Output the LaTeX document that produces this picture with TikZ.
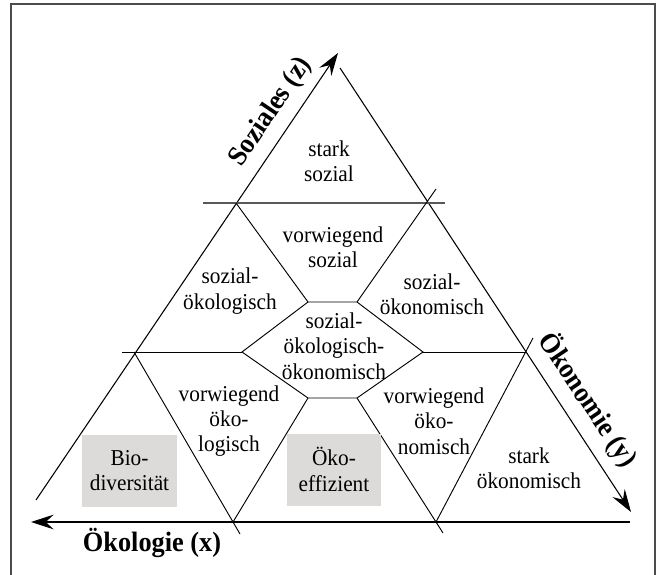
\documentclass[tikz,border=0pt]{standalone}
\usepackage{fontspec}
\setmainfont{Liberation Serif}[FakeStretch=0.94]
\usetikzlibrary{positioning,arrows.meta}
\definecolor{boxgray}{RGB}{220,219,217}

\begin{document}
\begin{tikzpicture}[x=0.75pt,y=-0.75pt,
regionnode/.style={align=center, font=\fontsize{17}{19}\selectfont, inner sep=0pt},
boxnode/.style={regionnode, fill=boxgray, minimum width=71pt, minimum height=54pt},
axislabel/.style={font=\fontsize{21}{24}\selectfont\bfseries, inner sep=0pt},
gridline/.style={line width=0.7pt},
axisarrow/.style={line width=0.8pt, -{Stealth[length=17pt,width=11pt,inset=6pt]}},
]
\useasboundingbox (0,0) rectangle (659,574);

% Frame
\draw[black!70, line width=0.9pt] (11,580) -- (11,4) -- (655,4) -- (655,580);

% Corner points
\coordinate (zstart) at (36,500);
\coordinate (ztip) at (338,53);
\coordinate (ystart) at (340,68);
\coordinate (ytip) at (631,512);
\coordinate (xstart) at (630,522);
\coordinate (xtip) at (31,522);

% Grid points
\coordinate (toplinel) at (203,203);
\coordinate (topliner) at (445,203);
\coordinate (midlinel) at (122,352);
\coordinate (p1) at (236,203);
\coordinate (p2) at (427,203);
\coordinate (p2end) at (436,189);
\coordinate (q1) at (134,352);
\coordinate (q2) at (526,352);
\coordinate (q2end) at (533,338);
\coordinate (r1) at (233,522);
\coordinate (r1end) at (240,534);
\coordinate (r2) at (436,522);
\coordinate (r2end) at (443,533);

% Hexagon
\coordinate (hl) at (242,352);
\coordinate (htl) at (308,302);
\coordinate (htr) at (357,302);
\coordinate (hr) at (423,352);
\coordinate (hbr) at (357,398);
\coordinate (hbl) at (308,398);

% Axes
\draw[axisarrow] (zstart) -- (ztip);
\draw[axisarrow] (ystart) -- (ytip);
\draw[axisarrow] (xstart) -- (xtip);

% Lines
\draw[black!65, line width=1pt] (toplinel) -- (topliner);
\draw[gridline] (midlinel) -- (hl);
\draw[gridline] (hr) -- (q2);
\draw[gridline] (hl) -- (htl) -- (htr) -- (hr) -- (hbr) -- (hbl) -- cycle;
\draw[gridline] (p1) -- (htl);
\draw[gridline] (htr) -- (p2end);
\draw[gridline] (q1) -- (r1end);
\draw[gridline] (hbl) -- (r1);
\draw[gridline] (hbr) -- (r2end);
\draw[gridline] (r2) -- (q2end);

% Boxes
\node[boxnode] (biodiv) at (129.5,470.5) {Bio-\\diversität};
\node[boxnode] (oekoeff) at (334,469.5) {Öko-\\effizient};

% Regions
\node[regionnode] (starksozial) at (329,161) {stark\\sozial};
\node[regionnode] (vorwsozial) at (333,247) {vorwiegend\\sozial};
\node[regionnode] (sozoekol) at (230,291) {sozial-\\ökologisch};
\node[regionnode] (sozoekon) at (432,294) {sozial-\\ökonomisch};
\node[regionnode] (center) at (334,346) {sozial-\\ökologisch-\\ökonomisch};
\node[regionnode] (vorwoekol) at (229,421) {vorwiegend\\öko-\\logisch};
\node[regionnode] (vorwoekon) at (434,421) {vorwiegend\\öko-\\nomisch};
\node[regionnode] (starkoekon) at (529,468) {stark\\ökonomisch};

% Axis labels
\node[axislabel, rotate=56] (soziales) at (271,112) {Soziales (z)};
\node[axislabel, rotate=-56] (oekonomie) at (588,400) {Ökonomie (y)};
\node[axislabel] (oekologie) at (152,543) {Ökologie (x)};

\end{tikzpicture}
\end{document}
